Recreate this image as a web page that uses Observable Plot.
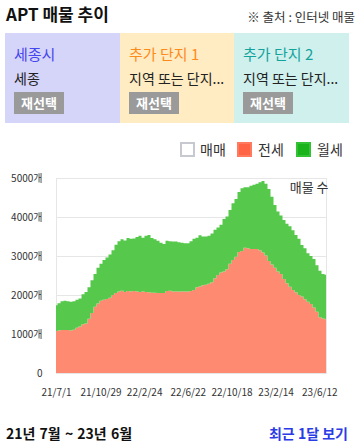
<!DOCTYPE html>
<html><head><meta charset="utf-8">
<script src="https://cdn.jsdelivr.net/npm/d3@7"></script>
<script src="https://cdn.jsdelivr.net/npm/@observablehq/plot@0.6"></script>
<style>
body{margin:0;background:#fff;}
#root{position:relative;width:358px;height:447px;overflow:hidden;background:#fff;font-family:"Noto Sans CJK KR","Noto Sans",sans-serif;color:#222;}
.abs{position:absolute;white-space:nowrap;}
.panel{position:absolute;top:33px;height:90px;width:115px;}
.ph{position:absolute;left:9px;top:12px;font-size:15px;line-height:18px;}
.ps{position:absolute;left:9px;top:37px;font-size:14px;line-height:17px;color:#222;}
.btn{position:absolute;left:9px;top:59px;width:50px;height:22px;background:#9a9a9a;color:#fff;font-weight:bold;font-size:13px;line-height:22px;text-align:center;}
.lbox{position:absolute;top:142px;width:11px;height:11px;border:2px solid;}
.ltxt{position:absolute;top:139px;font-size:14px;line-height:20px;color:#333;}
</style></head>
<body>
<div id="root">
  <div class="abs" style="left:6px;top:3px;font-size:17px;font-weight:bold;line-height:21px;color:#111;">APT 매물 추이</div>
  <div class="abs" style="right:3px;top:9px;font-size:12.5px;line-height:16px;color:#333;">※ 출처 : 인터넷 매물</div>

  <div class="panel" style="left:5px;background:#d5d5fa;">
    <div class="ph abs" style="color:#4646ee;">세종시</div>
    <div class="ps abs">세종</div>
    <div class="btn">재선택</div>
  </div>
  <div class="panel" style="left:120px;width:114px;background:#ffecc2;">
    <div class="ph abs" style="color:#ff8a1c;">추가 단지 1</div>
    <div class="ps abs">지역 또는 단지...</div>
    <div class="btn">재선택</div>
  </div>
  <div class="panel" style="left:234px;background:#d0f0ee;">
    <div class="ph abs" style="color:#12a39c;">추가 단지 2</div>
    <div class="ps abs">지역 또는 단지...</div>
    <div class="btn">재선택</div>
  </div>

  <div class="lbox" style="left:180px;background:#fff;border-color:#c8c8d0;"></div>
  <div class="ltxt abs" style="left:200px;">매매</div>
  <div class="lbox" style="left:237px;background:#ff6545;border-color:#ff7a5e;"></div>
  <div class="ltxt abs" style="left:258px;">전세</div>
  <div class="lbox" style="left:296px;background:#1bb31b;border-color:#33c233;"></div>
  <div class="ltxt abs" style="left:317px;">월세</div>

  <div id="chart" style="position:absolute;left:0;top:165px;"></div>

  <div class="abs" style="left:6px;top:424px;font-size:14px;font-weight:bold;line-height:18px;color:#111;word-spacing:1px;">21년 7월 ~ 23년 6월</div>
  <div class="abs" style="right:10px;top:424px;font-size:14px;font-weight:bold;line-height:18px;color:#2b3be6;">최근 1달 보기</div>
</div>
<script>
const startDate = "2021-07-01";
const endDate = "2023-06-30";
const jeonse = [1080,1090,1100,1100,1100,1090,1110,1160,1190,1250,1270,1390,1540,1700,1780,1850,1880,1900,1930,2000,
  2050,2090,2110,2080,2100,2090,2100,2090,2080,2090,2080,2070,2060,2060,2050,2050,2050,2100,2110,2090,
  2090,2090,2090,2090,2090,2100,2130,2200,2220,2250,2260,2290,2330,2430,2510,2580,2600,2660,2800,2900,
  2980,3100,3130,3210,3200,3180,3180,3180,3150,3090,3010,2870,2780,2700,2600,2540,2410,2300,2210,2130,
  2070,2000,1960,1890,1830,1770,1680,1570,1430,1400,1380];
const wolse = [660,700,740,750,740,740,730,720,720,770,810,810,840,840,920,950,1020,1060,1110,1150,
  1240,1290,1320,1320,1360,1350,1350,1400,1440,1380,1440,1470,1400,1370,1340,1290,1260,1290,1270,1280,
  1280,1260,1250,1240,1240,1280,1310,1270,1310,1250,1240,1230,1250,1240,1220,1220,1350,1350,1380,1450,
  1480,1540,1610,1550,1560,1620,1650,1670,1740,1830,1840,1850,1740,1610,1540,1500,1510,1530,1550,1530,
  1470,1440,1320,1310,1240,1230,1240,1190,1190,1140,1140];
const seriesNames = ["전세", "월세"];
const seriesColors = ["#ff8a72", "#56c94c"];
const yTicks = [0, 1000, 2000, 3000, 4000, 5000];
const xTickLabels = ["21/7/1", "21/10/29", "22/2/24", "22/6/22", "22/10/18", "23/2/14", "23/6/12"];
const axisTitle = "매물 수";

const t0 = new Date(startDate + "T00:00:00Z");
const t1 = new Date(endDate + "T00:00:00Z");
const n = jeonse.length;
const stepMs = (t1 - t0) / (n - 1);
const dates = jeonse.map((_, i) => new Date(+t0 + i * stepMs));
const rows = [];
dates.forEach((d, i) => {
  rows.push({date: d, type: seriesNames[0], value: jeonse[i]});
  rows.push({date: d, type: seriesNames[1], value: wolse[i]});
});
const parseLabel = s => { const [y, m, d] = s.split("/").map(Number); return new Date(Date.UTC(2000 + y, m - 1, d)); };
const tickDates = xTickLabels.map(parseLabel);
const fmt = d => `${String(d.getUTCFullYear()).slice(2)}/${d.getUTCMonth() + 1}/${d.getUTCDate()}`;

const chart = Plot.plot({
  width: 358, height: 235,
  marginTop: 13, marginBottom: 27, marginLeft: 56, marginRight: 32,
  style: {fontFamily: '"Noto Sans CJK KR","Noto Sans",sans-serif', fontSize: "10px", color: "#333", background: "transparent", overflow: "visible"},
  x: {type: "utc", domain: [t0, t1], ticks: tickDates, tickFormat: fmt, tickSize: 0, tickPadding: 15, label: null},
  y: {domain: [0, 5000], ticks: yTicks, tickFormat: d => d === 0 ? "0" : d + "개", tickSize: 0, tickPadding: 14, label: null},
  color: {domain: seriesNames, range: seriesColors},
  marks: [
    Plot.ruleY(yTicks, {stroke: "#e6e6e6", strokeWidth: 1}),
    Plot.frame({stroke: "#e6e6e6"}),
    Plot.areaY(rows, {x: "date", y: "value", fill: "type", z: "type", curve: "step"}),
    Plot.text([axisTitle], {frameAnchor: "top-right", textAnchor: "end", lineAnchor: "top", dx: 2, dy: 4, fontSize: 13, fill: "#333"})
  ]
});
document.getElementById("chart").appendChild(chart);
</script>
</body></html>
